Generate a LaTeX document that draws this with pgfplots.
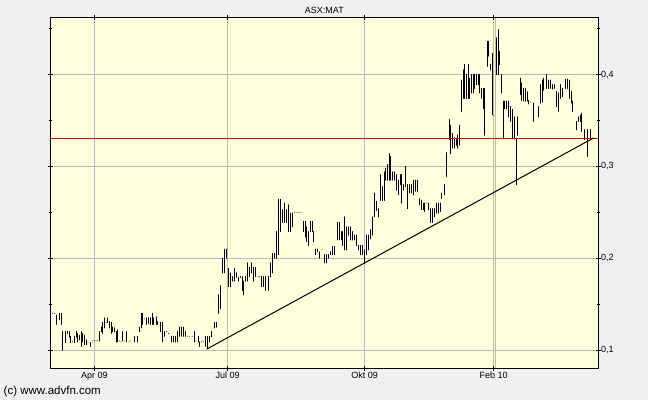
\documentclass[border=0pt]{standalone}
\usepackage{pgfplots}
\usepackage{pgfplotstable}
\pgfplotsset{compat=1.18}
\usepackage{fontspec}
\setmainfont{Liberation Sans}
\definecolor{outerbg}{RGB}{240,240,240}
\definecolor{plotbg}{RGB}{255,255,221}
\definecolor{gridgray}{RGB}{185,185,185}
\definecolor{supred}{RGB}{224,0,0}
\pgfplotstableread{
x l h
52.7 0.140 0.140
54.7 0.140 0.140
56.7 0.128 0.138
59.0 0.133 0.140
61.0 0.128 0.140
62.7 0.100 0.120
65.0 0.108 0.120
67.3 0.118 0.120
69.0 0.114 0.120
70.7 0.108 0.115
72.3 0.109 0.109
74.0 0.108 0.115
76.0 0.114 0.120
77.7 0.109 0.118
79.3 0.111 0.116
81.0 0.104 0.120
82.7 0.109 0.118
84.3 0.106 0.116
86.0 0.106 0.111
88.0 0.108 0.108
90.0 0.104 0.108
92.3 0.110 0.110
94.3 0.110 0.110
96.0 0.110 0.110
97.7 0.110 0.110
99.3 0.110 0.120
101.0 0.120 0.125
102.7 0.118 0.130
104.3 0.124 0.135
106.0 0.130 0.130
107.7 0.130 0.135
109.3 0.124 0.131
111.0 0.118 0.130
112.7 0.120 0.125
114.3 0.120 0.124
116.0 0.109 0.120
117.7 0.109 0.122
119.3 0.110 0.110
121.0 0.109 0.109
122.7 0.110 0.120
124.3 0.110 0.110
126.7 0.109 0.120
129.0 0.109 0.109
130.7 0.110 0.110
134.7 0.109 0.115
137.0 0.109 0.115
139.3 0.120 0.125
141.0 0.124 0.140
142.7 0.128 0.140
144.3 0.134 0.134
146.3 0.128 0.135
148.7 0.129 0.135
150.3 0.128 0.135
152.0 0.128 0.140
153.7 0.128 0.135
156.0 0.128 0.136
157.7 0.128 0.131
160.3 0.120 0.130
162.3 0.109 0.130
164.3 0.115 0.120
166.7 0.120 0.120
168.7 0.118 0.118
171.7 0.109 0.115
173.7 0.109 0.115
175.7 0.109 0.115
177.3 0.109 0.120
179.0 0.115 0.125
181.0 0.115 0.125
183.0 0.115 0.125
185.0 0.115 0.120
187.0 0.115 0.115
189.0 0.115 0.115
192.0 0.115 0.115
194.0 0.109 0.120
196.0 0.110 0.110
198.0 0.109 0.115
199.3 0.104 0.109
201.7 0.109 0.109
203.3 0.109 0.109
205.3 0.104 0.115
207.0 0.102 0.1145
209.7 0.109 0.115
211.5 0.1145 0.120
214.5 0.124 0.130
216.5 0.125 0.130
218.7 0.140 0.160
220.3 0.145 0.170
222.3 0.184 0.200
224.3 0.184 0.210
226.3 0.200 0.210
228.7 0.169 0.189
230.3 0.169 0.184
232.0 0.175 0.180
234.3 0.175 0.189
236.0 0.179 0.184
238.0 0.175 0.179
240.3 0.179 0.180
242.0 0.165 0.180
243.7 0.160 0.175
245.7 0.175 0.180
247.3 0.175 0.195
249.3 0.180 0.190
251.3 0.184 0.195
253.7 0.175 0.190
255.7 0.180 0.190
258.0 0.180 0.180
259.7 0.180 0.180
261.7 0.169 0.180
263.3 0.169 0.180
265.7 0.165 0.180
268.0 0.165 0.180
270.0 0.180 0.195
272.0 0.184 0.205
274.3 0.200 0.205
276.7 0.200 0.229
278.7 0.204 0.264
280.3 0.229 0.264
282.3 0.239 0.253
284.3 0.239 0.260
286.3 0.239 0.253
288.5 0.229 0.258
290.7 0.229 0.249
292.7 0.234 0.249
294.7 0.250 0.250
297.0 0.250 0.250
299.0 0.250 0.250
301.0 0.250 0.250
303.0 0.229 0.240
305.0 0.223 0.240
306.7 0.218 0.234
308.0 0.214 0.229
310.0 0.229 0.240
312.0 0.229 0.240
313.7 0.218 0.229
315.7 0.204 0.210
317.7 0.207 0.210
319.7 0.200 0.207
322.0 0.210 0.210
324.3 0.195 0.204
326.3 0.195 0.204
328.0 0.200 0.204
330.3 0.204 0.207
332.7 0.204 0.213
334.7 0.204 0.213
337.3 0.220 0.239
339.0 0.220 0.239
341.0 0.220 0.229
342.7 0.214 0.229
344.7 0.209 0.245
346.7 0.209 0.234
348.7 0.225 0.234
350.7 0.220 0.234
352.7 0.220 0.229
354.7 0.220 0.225
356.7 0.214 0.225
358.7 0.209 0.214
360.7 0.204 0.214
362.7 0.204 0.214
364.0 0.194 0.209
366.0 0.204 0.225
368.0 0.209 0.225
370.7 0.221 0.231
372.7 0.225 0.245
374.3 0.245 0.271
376.0 0.252 0.262
378.0 0.245 0.254
380.3 0.263 0.291
382.0 0.263 0.278
384.0 0.263 0.294
385.7 0.285 0.298
387.3 0.285 0.302
389.0 0.285 0.314
390.7 0.285 0.311
392.7 0.285 0.294
394.3 0.285 0.294
396.3 0.274 0.291
398.0 0.269 0.285
400.0 0.280 0.291
401.7 0.260 0.291
403.3 0.274 0.280
405.3 0.278 0.300
407.3 0.254 0.280
409.3 0.271 0.280
411.3 0.271 0.280
413.3 0.269 0.285
415.3 0.273 0.285
417.3 0.273 0.285
419.3 0.258 0.265
421.0 0.253 0.263
423.0 0.253 0.260
424.7 0.251 0.260
426.7 0.260 0.260
428.3 0.253 0.260
430.7 0.239 0.254
432.3 0.239 0.254
434.0 0.245 0.254
436.0 0.249 0.260
438.0 0.249 0.260
440.0 0.251 0.260
441.7 0.265 0.271
444.3 0.269 0.280
446.3 0.289 0.315
449.0 0.329 0.351
450.7 0.314 0.345
452.3 0.320 0.336
454.0 0.320 0.331
456.0 0.323 0.329
457.7 0.320 0.334
459.7 0.323 0.345
461.3 0.360 0.394
463.0 0.374 0.405
464.7 0.374 0.411
466.3 0.374 0.400
468.0 0.374 0.411
469.7 0.374 0.396
471.3 0.380 0.400
473.0 0.380 0.400
474.7 0.385 0.400
476.3 0.389 0.400
478.0 0.389 0.400
479.7 0.380 0.400
481.3 0.374 0.385
483.0 0.363 0.385
484.7 0.334 0.385
487.0 0.409 0.436
488.7 0.420 0.436
490.3 0.405 0.411
492.3 0.356 0.423
494.0 0.355 0.355
496.3 0.400 0.440
498.0 0.400 0.449
499.7 0.411 0.425
501.3 0.380 0.400
503.0 0.330 0.371
504.7 0.363 0.371
506.7 0.363 0.371
508.3 0.354 0.371
510.3 0.349 0.365
512.3 0.330 0.362
514.3 0.330 0.354
516.0 0.280 0.330
517.7 0.334 0.354
520.0 0.378 0.396
521.7 0.372 0.391
523.3 0.371 0.385
525.0 0.371 0.385
527.0 0.371 0.381
528.7 0.368 0.372
530.7 0.370 0.370
533.7 0.349 0.369
538.3 0.354 0.365
540.7 0.369 0.389
542.3 0.370 0.394
543.7 0.383 0.396
546.3 0.385 0.400
548.3 0.385 0.394
550.0 0.385 0.394
552.0 0.384 0.389
554.0 0.385 0.389
556.7 0.365 0.3815
558.3 0.360 0.380
560.3 0.374 0.389
562.3 0.376 0.385
565.3 0.385 0.395
567.3 0.385 0.395
569.0 0.374 0.394
571.0 0.369 0.3815
572.7 0.360 0.371
576.3 0.340 0.349
578.0 0.349 0.354
580.0 0.349 0.356
581.7 0.338 0.358
584.7 0.329 0.340
587.3 0.311 0.340
590.0 0.329 0.340
}\ohlc
\begin{document}
\begin{tikzpicture}
\fill[outerbg] (0,0) rectangle (648bp,400bp);
\begin{axis}[
  at={(50.5bp,31.7bp)}, anchor=south west,
  width=547.8bp, height=350.5bp, scale only axis,
  xmin=50.5, xmax=598.3, ymin=0.0801, ymax=0.4618,
  axis background/.style={fill=plotbg},
  axis line style={black, line width=1bp},
  xtick={94.3,227.7,364.7,493.7},
  xticklabels={Apr 09,Jul 09,Okt 09,Feb 10},
  ytick={0.1,0.2,0.3,0.4},
  yticklabels={{0,1},{0,2},{0,3},{0,4}},
  minor ytick={0.15,0.25,0.35,0.45},
  yticklabel pos=right,
  grid=major,
  major grid style={gridgray, line width=1bp},
  tick align=center,
  major tick length=5bp, minor tick length=2.5bp,
  tick style={black, line width=1bp},
  ticklabel style={font=\fontsize{9bp}{10bp}\selectfont, inner sep=0pt},
  xticklabel style={anchor=north, yshift=-1bp},
  yticklabel style={anchor=west, xshift=0bp},
]
\addplot[gridgray, line width=1bp] coordinates {(495.7,0.0801) (495.7,0.4618)};
\addplot[draw=none, mark=none,
  error bars/.cd, y dir=plus, y explicit, error mark=none,
  error bar style={draw=black, solid, line width=1bp, line cap=round}]
  table[x=x, y=l, y error expr=\thisrow{h}-\thisrow{l}] {\ohlc};
\addplot[supred, line width=1bp] coordinates {(50.5,0.330) (598.3,0.330)};
\addplot[black, line width=1bp] coordinates {(206.7,0.101) (593.7,0.331)};
\end{axis}
\node[font=\fontsize{9bp}{10bp}\selectfont, inner sep=0pt] at (324.4bp,389.7bp) {ASX:MAT};
\node[font=\fontsize{11.5bp}{13bp}\selectfont, inner sep=0pt, anchor=west] at (3.5bp,8bp) {(c) www.advfn.com};
\pgfresetboundingbox
\path (0,0) rectangle (648bp,400bp);
\end{tikzpicture}
\end{document}
